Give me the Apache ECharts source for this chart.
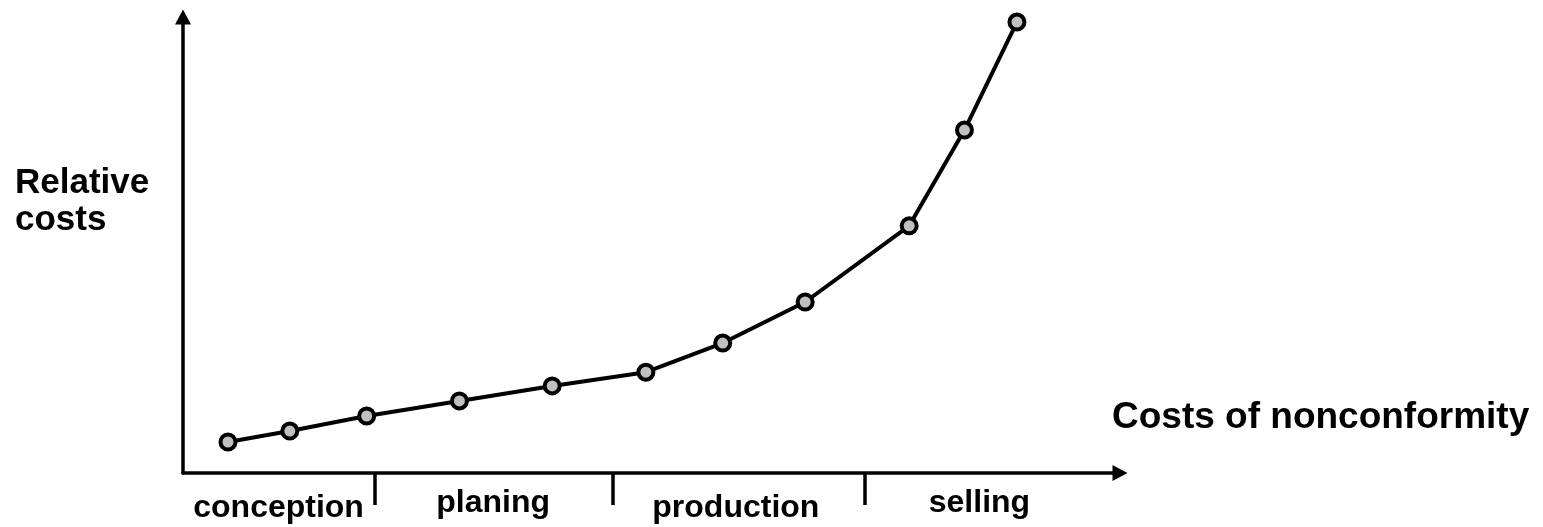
<!DOCTYPE html>
<html>
<head>
<meta charset="utf-8">
<title>Costs of nonconformity</title>
<script src="https://cdn.jsdelivr.net/npm/echarts@6/dist/echarts.min.js"></script>
<style>
  html, body { margin: 0; padding: 0; background: #ffffff; }
  #chart { width: 1543px; height: 527px; }
</style>
</head>
<body>
<div id="chart"></div>
<script>
// Life-cycle phases along the time axis (0..100)
const phases = ['conception', 'planing', 'production', 'selling'];
const phaseCenters = [10.2, 33.1, 59.0, 85.0];
const phaseBounds = [20.5, 45.9, 72.8];

// Relative cost of fixing a nonconformity at each point in time
const timeX = [4.8, 11.4, 19.6, 29.5, 39.4, 49.4, 57.6, 66.4, 77.5, 83.4, 89.0];
const relCost = [6.8, 9.2, 12.5, 15.8, 19.1, 22.1, 28.5, 37.5, 54.2, 75.2, 98.9];

const FONT = '"Liberation Sans", Arial, Helvetica, sans-serif';

const chart = echarts.init(document.getElementById('chart'), null, { renderer: 'canvas' });

const labelRich = {
  low: { fontFamily: FONT, fontWeight: 'bold', fontSize: 32, color: '#000', padding: [5, 0, 0, 0] },
  high: { fontFamily: FONT, fontWeight: 'bold', fontSize: 32, color: '#000', padding: [0, 0, 0, 0] }
};

// solid arrow heads at the far ends of both axes
const axisArrow = {
  show: true,
  symbol: ['none', 'triangle'],
  symbolSize: [16, 15],
  lineStyle: { color: '#000', width: 3.5 }
};

chart.setOption({
  animation: false,
  backgroundColor: '#ffffff',
  title: [
    {
      text: 'Relative\ncosts',
      left: 15,
      top: 165,
      padding: 0,
      textStyle: { fontFamily: FONT, fontWeight: 'bold', fontSize: 35, color: '#000', lineHeight: 37 }
    },
    {
      text: 'Costs of nonconformity',
      left: 1112,
      top: 399,
      padding: 0,
      textStyle: { fontFamily: FONT, fontWeight: 'bold', fontSize: 37, color: '#000' }
    }
  ],
  grid: { left: 183, right: 423, top: 17, bottom: 54, containLabel: false, outerBoundsMode: 'none' },
  xAxis: {
    type: 'value',
    min: 0,
    max: 100,
    splitLine: { show: false },
    axisLine: axisArrow,
    axisTick: {
      show: true,
      customValues: phaseBounds,
      length: 32,
      lineStyle: { color: '#000', width: 3.5 }
    },
    axisLabel: {
      show: true,
      customValues: phaseCenters,
      margin: 14,
      formatter: function (v) {
        const i = phaseCenters.indexOf(v);
        const name = phases[i] || '';
        const key = (i === 0 || i === 2) ? 'low' : 'high';
        return '{' + key + '|' + name + '}';
      },
      rich: labelRich
    }
  },
  yAxis: {
    type: 'value',
    min: 0,
    max: 100,
    splitLine: { show: false },
    axisTick: { show: false },
    axisLabel: { show: false },
    axisLine: axisArrow
  },
  series: [
    {
      type: 'line',
      data: timeX.map((x, i) => [x, relCost[i]]),
      symbol: 'circle',
      symbolSize: 15,
      showAllSymbol: true,
      lineStyle: { color: '#000', width: 4 },
      itemStyle: { color: '#c0c0c0', borderColor: '#000', borderWidth: 4 },
      emphasis: { disabled: true }
    }
  ]
});
</script>
</body>
</html>
